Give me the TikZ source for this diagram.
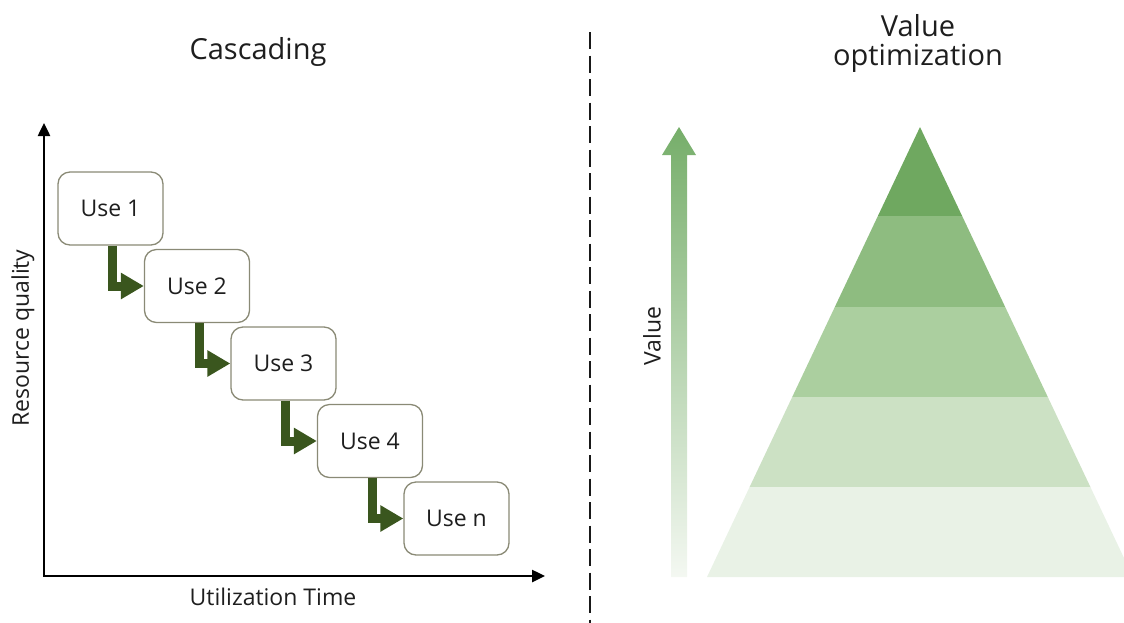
\documentclass[tikz,border=0pt]{standalone}
\usepackage{fontspec}
\setmainfont{Open Sans}
\usetikzlibrary{arrows.meta,calc}

\definecolor{stepgreen}{RGB}{58,86,30}
\definecolor{boxline}{RGB}{138,138,118}
\definecolor{inkgray}{RGB}{30,30,30}
\definecolor{lvA}{RGB}{111,168,96}
\definecolor{lvB}{RGB}{142,188,128}
\definecolor{lvC}{RGB}{171,207,159}
\definecolor{lvD}{RGB}{204,225,196}
\definecolor{lvE}{RGB}{233,242,230}
\definecolor{valtop}{RGB}{118,174,106}
\definecolor{valmid}{RGB}{172,208,162}
\definecolor{valbot}{RGB}{244,248,242}

\tikzset{
  usebox/.style={draw=boxline, line width=1.3pt, rounded corners=12pt, fill=white,
    minimum width=105pt, minimum height=73pt, inner sep=0pt,
    font=\fontsize{23}{28}\selectfont, text=inkgray},
  cascade/.style={draw=stepgreen, line width=9pt,
    -{Triangle[length=23pt,width=25pt]}},
  axis/.style={draw=black, line width=2.5pt,
    {Triangle[length=13pt,width=12pt]}-{Triangle[length=13pt,width=12pt]}},
  title/.style={font=\fontsize{29}{29}\selectfont, text=inkgray, anchor=base},
  label/.style={font=\fontsize{23}{28}\selectfont, text=inkgray},
  sepline/.style={draw=black!90, line width=2.8pt, dash pattern=on 17pt off 6.5pt}
}

\begin{document}
\begin{tikzpicture}[x=1pt,y=-1pt]
\useasboundingbox (0,0) rectangle (1124,622);
\clip (0,0) rectangle (1124,622);

% ---------- left panel: cascading uses ----------
\node[title] (casctitle) at (258,59) {Cascading};

\coordinate (origin) at (44,576);
\coordinate (ytip) at (44,123);
\coordinate (xtip) at (545,576);
\draw[axis] (ytip) -- (origin) -- (xtip);

\node[label, rotate=90] (ylab) at (23,338) {Resource quality};
\node[label, anchor=base] (xlab) at (273,605) {Utilization Time};

\node[usebox] (u1) at (110.5,208.5) {Use 1};
\node[usebox] (u2) at (197.0,286.0) {Use 2};
\node[usebox] (u3) at (283.5,363.5) {Use 3};
\node[usebox] (u4) at (370.0,441.0) {Use 4};
\node[usebox] (un) at (456.5,518.5) {Use n};

\draw[cascade] ([xshift=2pt]u1.south) |- (u2.west);
\draw[cascade] ([xshift=2pt]u2.south) |- (u3.west);
\draw[cascade] ([xshift=2pt]u3.south) |- (u4.west);
\draw[cascade] ([xshift=2pt]u4.south) |- (un.west);

% ---------- separator ----------
\coordinate (septop) at (590,32);
\coordinate (sepbot) at (590,624);
\draw[sepline] (septop) -- (sepbot);

% ---------- right panel: value optimization ----------
\node[title] (valtitle1) at (918,36) {Value};
\node[title] (valtitle2) at (918,65) {optimization};

% value arrow with fading fill
\shade[top color=valtop, middle color=valmid, bottom color=valbot]
  (671,577) -- (671,155) -- (662,155) -- (679,127) -- (696,155)
  -- (687,155) -- (687,577) -- cycle;
\node[label, rotate=90] (vallab) at (652,336) {Value};

% pyramid layers
\coordinate (apex) at (920,127);
\coordinate (bl) at (707,577);
\coordinate (br) at (1133,577);
\fill[lvA] (apex) -- ($(apex)!0.198!(br)$) -- ($(apex)!0.198!(bl)$) -- cycle;
\fill[lvB] ($(apex)!0.198!(bl)$) -- ($(apex)!0.198!(br)$) -- ($(apex)!0.4!(br)$) -- ($(apex)!0.4!(bl)$) -- cycle;
\fill[lvC] ($(apex)!0.4!(bl)$) -- ($(apex)!0.4!(br)$) -- ($(apex)!0.6!(br)$) -- ($(apex)!0.6!(bl)$) -- cycle;
\fill[lvD] ($(apex)!0.6!(bl)$) -- ($(apex)!0.6!(br)$) -- ($(apex)!0.8!(br)$) -- ($(apex)!0.8!(bl)$) -- cycle;
\fill[lvE] ($(apex)!0.8!(bl)$) -- ($(apex)!0.8!(br)$) -- (br) -- (bl) -- cycle;
\end{tikzpicture}
\end{document}
